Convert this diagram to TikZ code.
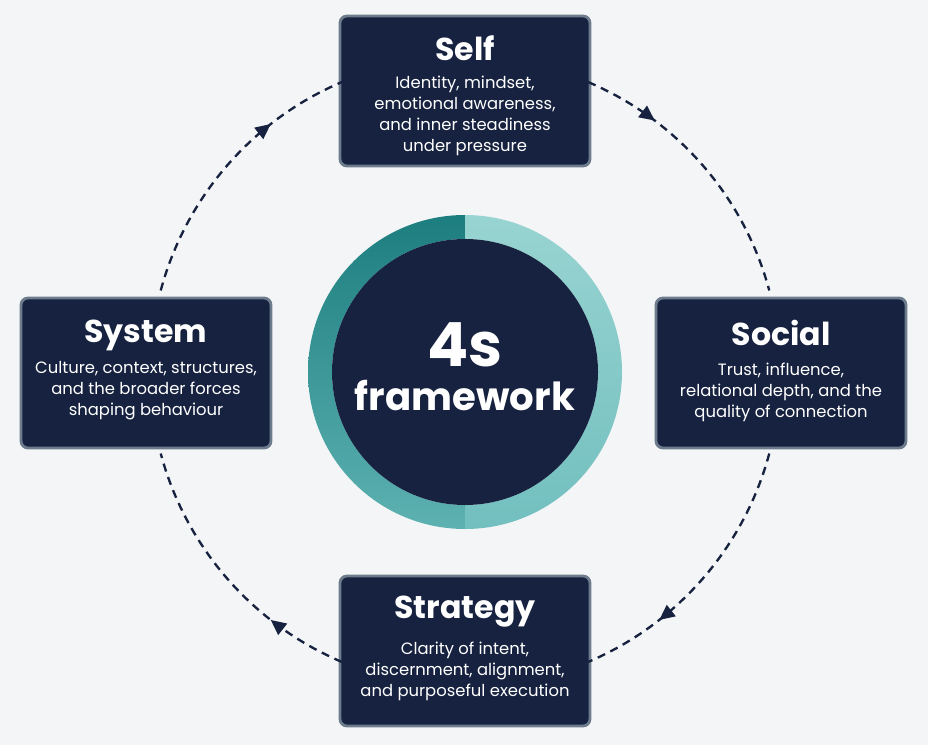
\documentclass[tikz,border=0pt]{standalone}
\usepackage{fontspec}
\setmainfont{Poppins}
\usetikzlibrary{arrows.meta,decorations.markings,calc}
\definecolor{navy}{HTML}{16223F}
\definecolor{boxrim}{HTML}{6D7C8C}
\definecolor{paper}{HTML}{F4F5F6}
\definecolor{tealdark}{HTML}{1D7E7F}
\definecolor{tealmid}{HTML}{5DB1B1}
\definecolor{teallight}{HTML}{98D4D1}
\definecolor{tealsoft}{HTML}{72BFBF}
\tikzset{
    quarter/.style={draw=boxrim, fill=navy, line width=2.4pt, rounded corners=6pt,
        minimum width=7.5cm, minimum height=4.5cm},
    body/.style={text=white, align=center, font=\fontsize{14}{18}\selectfont},
    head/.style={text=white, font=\fontsize{27}{30}\selectfont\bfseries},
    flow/.style={navy, line width=2pt, dash pattern=on 7pt off 5pt},
    tip/.style={postaction={decorate, decoration={markings,
        mark=at position #1 with {\arrow[navy, solid]{Triangle[length=13pt, width=12pt]}}}}}
}
\begin{document}
\begin{tikzpicture}[x=0.03cm, y=0.03cm]
    %--------------------%
    % Parameters
    %--------------------%
    \def\ringout{157}
    \def\ringin{133}
    \def\cyclerad{315}

    % Background
    \fill[paper] (0,0) rectangle (928,745);
    \coordinate (hub) at (465,373);

    %--------------------%
    % Ring
    %--------------------%
    \shade[top color=tealdark, bottom color=tealmid]
        ($(hub)+(90:\ringout)$) arc[start angle=90, end angle=270, radius=\ringout]
        -- ($(hub)+(270:\ringin)$) arc[start angle=270, end angle=90, radius=\ringin] -- cycle;
    \shade[top color=teallight, bottom color=tealsoft]
        ($(hub)+(-90:\ringout)$) arc[start angle=-90, end angle=90, radius=\ringout]
        -- ($(hub)+(90:\ringin)$) arc[start angle=90, end angle=-90, radius=\ringin] -- cycle;
    \node[circle, fill=navy, minimum size=7.98cm] (core) at (hub) {};
    \node[text=white, font=\fontsize{52}{52}\selectfont\bfseries] (four) at (465,400) {4s};
    \node[text=white, font=\fontsize{33}{34}\selectfont\bfseries] (frame) at (465,350) {framework};

    %--------------------%
    % Boxes
    %--------------------%
    \node[quarter] (self) at (465,654) {};
    \node[quarter] (social) at (781,372) {};
    \node[quarter] (strategy) at (465,94) {};
    \node[quarter] (system) at (146,372) {};

    \node[head] (selft) at (465,697) {Self};
    \node[body] (selfb) at (465,629)
        {Identity, mindset,\\emotional awareness,\\and inner steadiness\\under pressure};
    \node[head] (socialt) at (781,412) {Social};
    \node[body] (socialb) at (781,353)
        {Trust, influence,\\relational depth, and the\\quality of connection};
    \node[head] (strategyt) at (465,133) {Strategy};
    \node[body] (strategyb) at (465,74)
        {Clarity of intent,\\discernment, alignment,\\and purposeful execution};
    \node[head] (systemt) at (146,410) {System};
    \node[body] (systemb) at (146,354)
        {Culture, context, structures,\\and the broader forces\\shaping behaviour};

    %--------------------%
    % Cycle
    %--------------------%
    \coordinate (a1) at ($(hub)+(165:\cyclerad)$);
    \coordinate (a2) at ($(hub)+(67:\cyclerad)$);
    \coordinate (a3) at ($(hub)+(-15:\cyclerad)$);
    \coordinate (a4) at ($(hub)+(-113:\cyclerad)$);
    \draw[flow, tip=0.71] (a1) arc[start angle=165, end angle=113, radius=\cyclerad];
    \draw[flow, tip=0.27] (a2) arc[start angle=67, end angle=15, radius=\cyclerad];
    \draw[flow, tip=0.71] (a3) arc[start angle=-15, end angle=-67, radius=\cyclerad];
    \draw[flow, tip=0.29] (a4) arc[start angle=-113, end angle=-165, radius=\cyclerad];
\end{tikzpicture}
\end{document}
